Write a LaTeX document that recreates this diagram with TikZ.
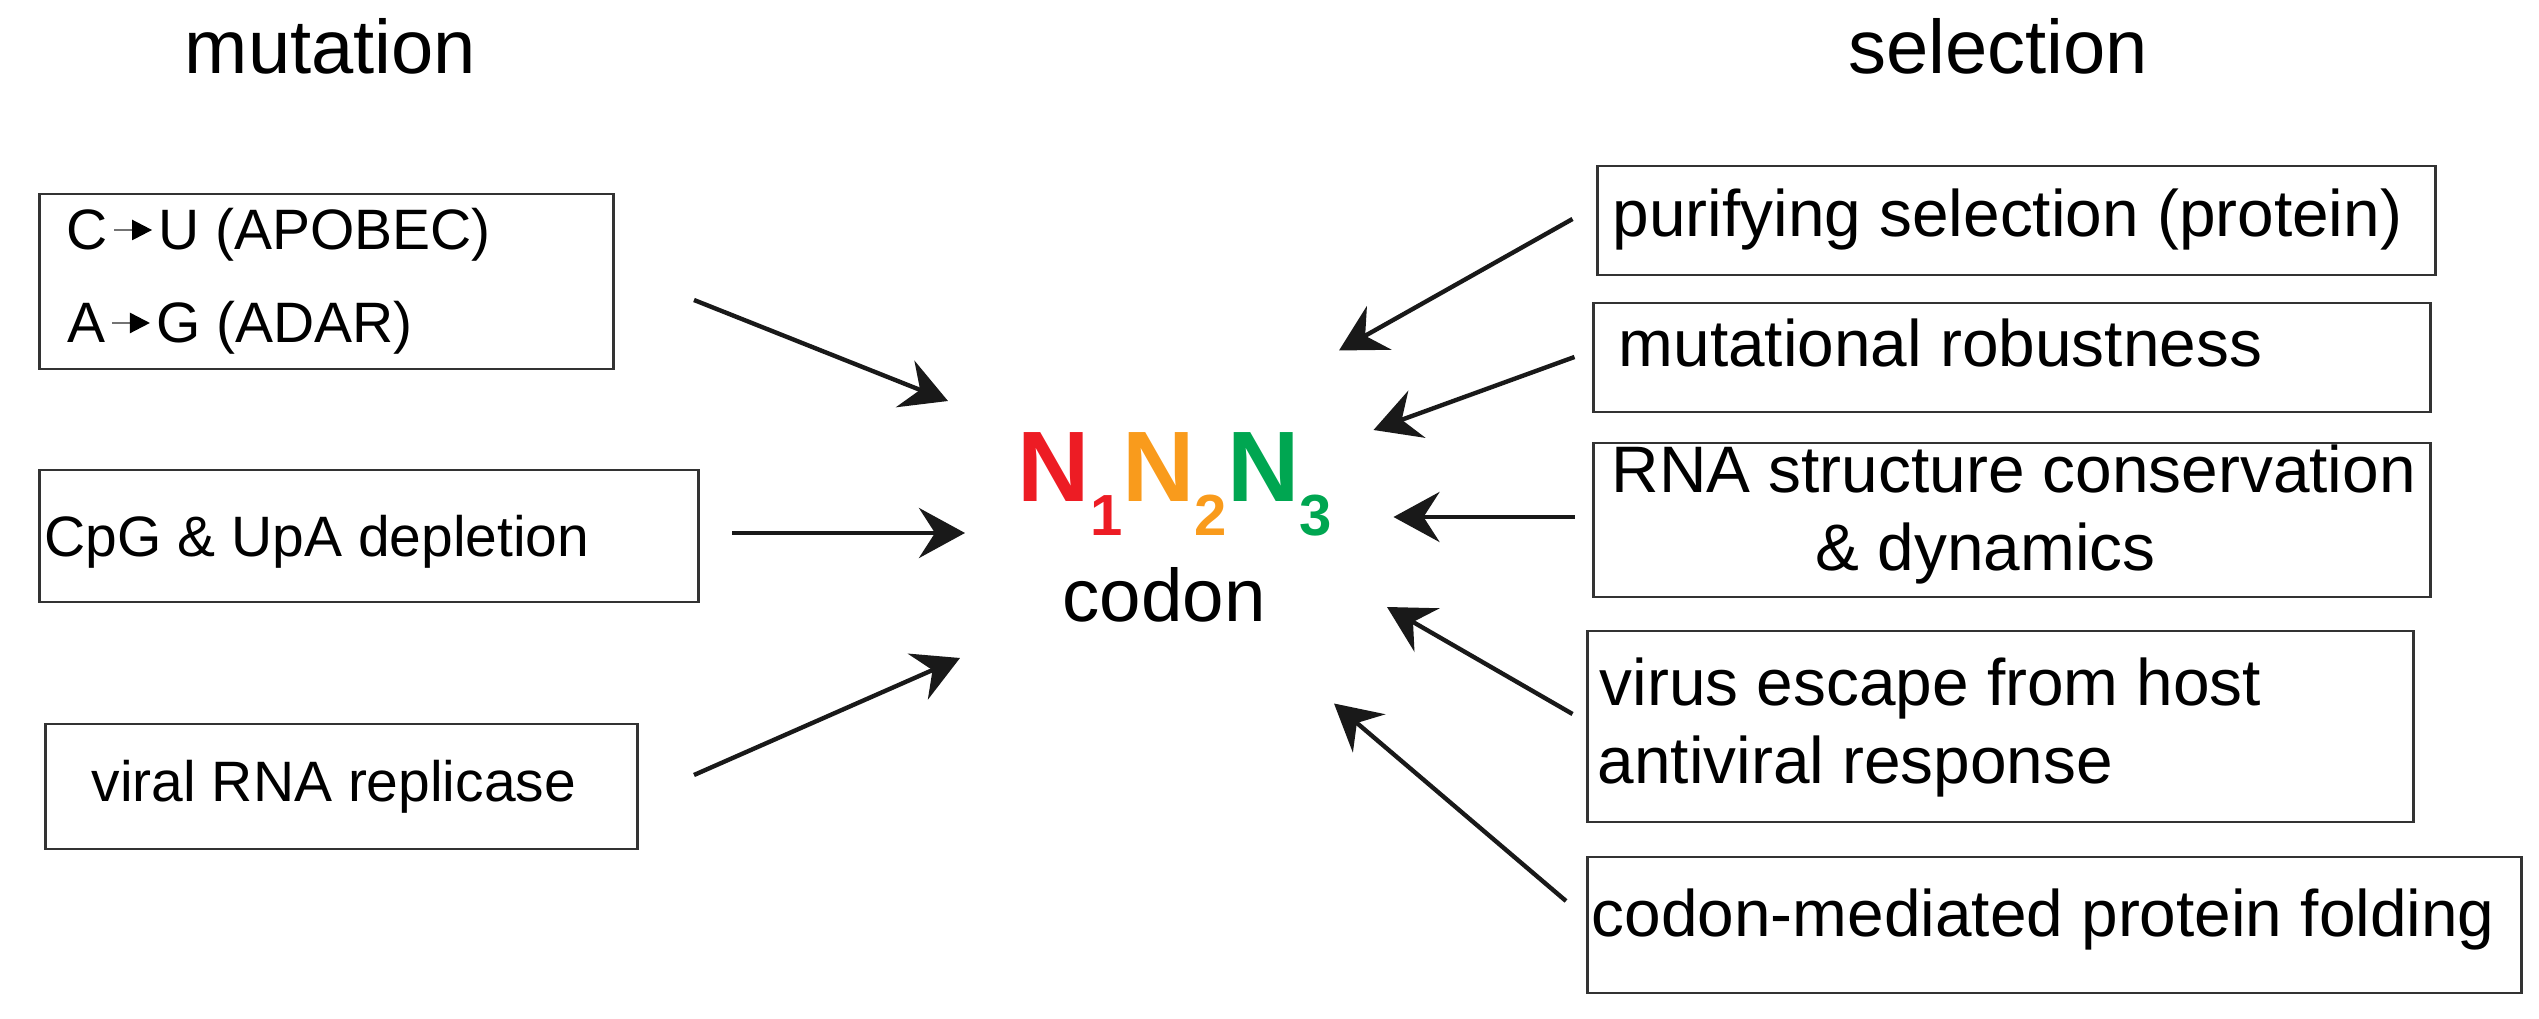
\documentclass[tikz,border=0pt]{standalone}
\usepackage{fontspec}
\setmainfont{Liberation Sans}
\usepackage{xcolor}
\usetikzlibrary{arrows.meta}

\definecolor{nred}{HTML}{ED1C24}
\definecolor{norange}{HTML}{F99B1C}
\definecolor{ngreen}{HTML}{00A651}

\newcommand\titlefont{\fontsize{21.6}{26}\selectfont}
\newcommand\codonfont{\fontsize{21.2}{25}\selectfont}
\newcommand\lboxfont{\fontsize{16.2}{19}\selectfont}
\newcommand\rboxfont{\fontsize{18.7}{22}\selectfont}
\newcommand\nfont{\fontsize{28.5}{34}\selectfont\bfseries}
\newcommand\nsub[1]{\raisebox{-0.33cm}{\fontsize{16.5}{20}\selectfont #1}}
\newcommand\smallto{\hspace{0.05cm}\tikz[x=1cm,y=1cm,baseline=-0.2cm]\draw[line width=0.7pt,black!55,-{Triangle[length=0.2cm,width=0.2cm,black]}] (0,0) -- (0.38,0);\hspace{0.05cm}}

\tikzset{
  box/.style={draw=black!80, line width=0.8pt, inner sep=0pt, outer sep=0pt},
  txt/.style={inner sep=0pt, anchor=base west},
  pointer/.style={black!90, line width=1.25pt, -{Stealth[length=0.46cm,width=0.5cm,inset=0.16cm]}},
}

\begin{document}
\begin{tikzpicture}[x=0.01cm, y=-0.01cm]
                \useasboundingbox (0,0) rectangle (2539,1019);

                % titles
                \node[anchor=base, inner sep=0pt, font=\titlefont] (mut) at (330.5,74) {mutation};
                \node[anchor=base, inner sep=0pt, font=\titlefont] (sel) at (1998,74) {selection};

                % mutation boxes
                \node[box, minimum width=5.73cm, minimum height=1.75cm] (cuBox) at (326.5,281.5) {};
                \node[txt, font=\lboxfont] (cuTxt) at (66,250) {C\smallto U (APOBEC)};
                \node[txt, font=\lboxfont] (agTxt) at (67,343) {A\smallto G (ADAR)};
                \node[box, minimum width=6.58cm, minimum height=1.32cm] (cpgBox) at (369,536) {};
                \node[txt, font=\lboxfont] (cpgTxt) at (44,556.5) {CpG \& UpA depletion};
                \node[box, minimum width=5.915cm, minimum height=1.25cm] (repBox) at (341.25,786.5) {};
                \node[txt, font=\lboxfont] (repTxt) at (91,801) {viral RNA replicase};

                % codon
                \node[txt, font=\nfont] (nnn) at (1017,502)
                    {{\color{nred}N\nsub{1}}{\color{norange}N\nsub{2}}{\color{ngreen}N\nsub{3}}};
                \node[anchor=base, inner sep=0pt, font=\codonfont] (codon) at (1164,622) {codon};

                % selection boxes
                \node[box, minimum width=8.375cm, minimum height=1.09cm] (purBox) at (2016.75,220.5) {};
                \node[txt, font=\rboxfont] (purTxt) at (1612,237) {purifying selection (protein)};
                \node[box, minimum width=8.36cm, minimum height=1.09cm] (robBox) at (2012,357.5) {};
                \node[txt, font=\rboxfont] (robTxt) at (1618,367) {mutational robustness};
                \node[box, minimum width=8.36cm, minimum height=1.54cm] (rnaBox) at (2012,520) {};
                \node[txt, font=\rboxfont] (rnaTxt) at (1611,492.5) {RNA structure conservation};
                \node[txt, font=\rboxfont] (dynTxt) at (1815,571) {\& dynamics};
                \node[box, minimum width=8.25cm, minimum height=1.91cm] (escBox) at (2000.5,726.5) {};
                \node[txt, font=\rboxfont] (escTxt) at (1599,705.5) {virus escape from host};
                \node[txt, font=\rboxfont] (antTxt) at (1597,784) {antiviral response};
                \node[box, minimum width=9.33cm, minimum height=1.36cm] (folBox) at (2054.5,925) {};
                \node[txt, font=\rboxfont] (folTxt) at (1591,936) {codon-mediated protein folding};

                % arrow ends
                \coordinate (cuA) at (694,300);
                \coordinate (cuB) at (948,401);
                \coordinate (cpgA) at (732,533);
                \coordinate (cpgB) at (965,533);
                \coordinate (repA) at (694,775);
                \coordinate (repB) at (960,658);
                \coordinate (purA) at (1572.5,219);
                \coordinate (purB) at (1339,350.5);
                \coordinate (robA) at (1574.5,357);
                \coordinate (robB) at (1373.5,430);
                \coordinate (rnaA) at (1574.5,517);
                \coordinate (rnaB) at (1393.5,517);
                \coordinate (escA) at (1572.5,714);
                \coordinate (escB) at (1387,607);
                \coordinate (folA) at (1566,901);
                \coordinate (folB) at (1334,703.5);

                \draw[pointer] (cuA) -- (cuB);
                \draw[pointer] (cpgA) -- (cpgB);
                \draw[pointer] (repA) -- (repB);
                \draw[pointer] (purA) -- (purB);
                \draw[pointer] (robA) -- (robB);
                \draw[pointer] (rnaA) -- (rnaB);
                \draw[pointer] (escA) -- (escB);
                \draw[pointer] (folA) -- (folB);
            \end{tikzpicture}
\end{document}
